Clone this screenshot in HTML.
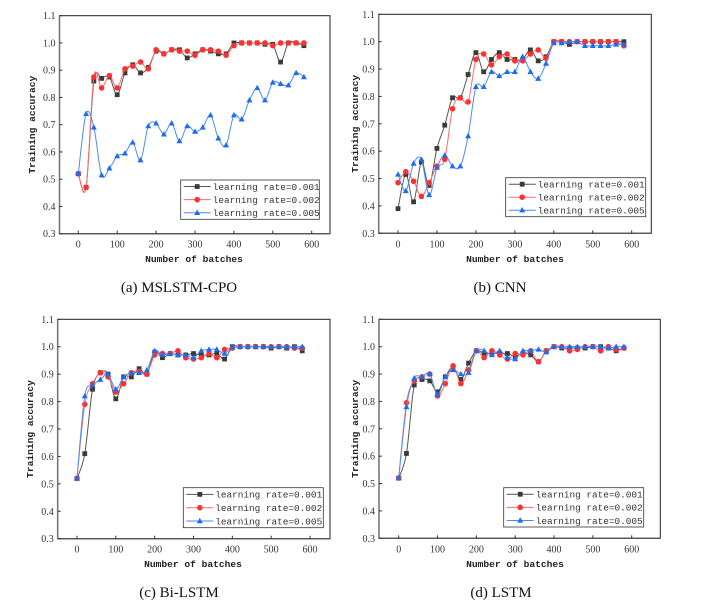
<!DOCTYPE html>
<html><head><meta charset="utf-8">
<style>
html,body{margin:0;padding:0;background:#fff;}
svg{display:block;}
.tick{font-family:"Liberation Serif",serif;font-size:10px;fill:#333;}
.ttl{font-family:"Liberation Mono",monospace;font-size:9.6px;font-weight:bold;fill:#222;}
.leg{font-family:"Liberation Mono",monospace;font-size:9.4px;fill:#333;}
.cap{font-family:"Liberation Serif",serif;font-size:15px;fill:#111;}
</style></head>
<body>
<svg id="fig" width="706" height="607" viewBox="0 0 706 607"></svg>
<script>
// x categories (batches)
const batches = [0,20,40,60,80,100,120,140,160,180,200,220,240,260,280,300,320,340,360,380,400,420,440,460,480,500,520,540,560,580];
const xTicks = [0,100,200,300,400,500,600];
const yTicks = [0.3,0.4,0.5,0.6,0.7,0.8,0.9,1.0,1.1];
const legendLabels = ["learning rate=0.001","learning rate=0.002","learning rate=0.005"];
const captions = ["(a)  MSLSTM-CPO","(b)  CNN","(c)  Bi-LSTM","(d)  LSTM"];

const mslstm001 = [0.52,0.47,0.86,0.87,0.875,0.81,0.89,0.92,0.89,0.91,0.97,0.96,0.975,0.975,0.945,0.96,0.975,0.97,0.96,0.96,1.0,1.0,1.0,1.0,0.995,0.995,0.93,1.0,1.0,0.99];
const mslstm002 = [0.52,0.47,0.875,0.835,0.88,0.835,0.905,0.915,0.93,0.905,0.975,0.96,0.975,0.97,0.97,0.955,0.975,0.975,0.97,0.955,0.99,1.0,1.0,1.0,1.0,0.99,1.0,1.0,1.0,1.0];
const mslstm005 = [0.52,0.74,0.69,0.515,0.54,0.585,0.595,0.635,0.57,0.695,0.705,0.665,0.705,0.64,0.695,0.675,0.69,0.735,0.65,0.625,0.735,0.72,0.79,0.835,0.79,0.855,0.85,0.845,0.89,0.875];

const cnn001 = [0.39,0.515,0.415,0.56,0.475,0.61,0.695,0.795,0.795,0.88,0.96,0.89,0.935,0.96,0.935,0.935,0.935,0.97,0.93,0.945,1.0,1.0,0.99,1.0,1.0,1.0,1.0,1.0,1.0,1.0];
const cnn002 = [0.485,0.525,0.49,0.435,0.485,0.545,0.57,0.755,0.795,0.78,0.935,0.955,0.915,0.945,0.955,0.93,0.93,0.955,0.97,0.94,1.0,1.0,1.0,1.0,1.0,1.0,1.0,1.0,1.0,0.985];
const cnn005 = [0.515,0.455,0.555,0.57,0.44,0.54,0.585,0.545,0.545,0.655,0.835,0.835,0.89,0.875,0.89,0.89,0.945,0.89,0.865,0.92,0.995,0.995,1.0,1.0,0.985,0.985,0.985,0.985,0.99,0.99];

const bilstm001 = [0.52,0.61,0.845,0.905,0.9,0.81,0.89,0.89,0.92,0.9,0.98,0.96,0.975,0.97,0.97,0.975,0.97,0.97,0.975,0.955,1.0,1.0,1.0,1.0,1.0,0.995,1.0,0.995,1.0,0.985];
const bilstm002 = [0.52,0.79,0.865,0.905,0.89,0.835,0.865,0.905,0.91,0.9,0.97,0.975,0.975,0.985,0.96,0.955,0.96,0.975,0.96,0.99,0.995,1.0,1.0,1.0,1.0,1.0,1.0,1.0,0.995,0.995];
const bilstm005 = [0.52,0.82,0.86,0.88,0.9,0.845,0.89,0.905,0.905,0.915,0.985,0.97,0.975,0.97,0.97,0.96,0.985,0.99,0.99,0.975,1.0,1.0,1.0,1.0,1.0,1.0,1.0,1.0,1.0,1.0];

const lstm001 = [0.52,0.61,0.86,0.88,0.875,0.835,0.89,0.925,0.88,0.94,0.985,0.975,0.975,0.975,0.975,0.965,0.975,0.97,0.945,0.985,1.0,0.995,0.995,0.995,0.995,1.0,1.0,0.995,0.985,0.995];
const lstm002 = [0.52,0.795,0.875,0.89,0.9,0.82,0.865,0.93,0.865,0.915,0.985,0.96,0.985,0.97,0.955,0.975,0.97,0.985,0.945,0.985,1.0,1.0,0.985,0.99,1.0,1.0,0.985,1.0,0.99,0.995];
const lstm005 = [0.52,0.78,0.885,0.89,0.9,0.825,0.89,0.915,0.9,0.905,0.985,0.985,0.97,0.985,0.96,0.955,0.985,0.985,0.99,0.98,1.0,1.0,1.0,1.0,1.0,1.0,1.0,0.995,1.0,1.0];

const panels = [
 {id:'a', series:[mslstm001,mslstm002,mslstm005], box:[59.5,15.7,330,233.7], x0:78.3, x600:311.7, leg:[180.7,180,319.3,219.3], ytx:35, capx:179, capy:292, xtx:194, xty:262},
 {id:'b', series:[cnn001,cnn002,cnn005], box:[378.7,14.3,651.3,233.3], x0:398, x600:631.7, leg:[505.7,177.7,645.7,216.7], ytx:358, capx:500, capy:292, xtx:515, xty:262},
 {id:'c', series:[bilstm001,bilstm002,bilstm005], box:[57.7,319.3,330,538.7], x0:77, x600:310, leg:[183.3,487.7,323.3,527.7], ytx:33, capx:179, capy:597, xtx:193, xty:567},
 {id:'d', series:[lstm001,lstm002,lstm005], box:[379,319.3,660.3,538.3], x0:398.7, x600:631.7, leg:[503.7,487.7,643.7,527], ytx:358, capx:501, capy:597, xtx:515, xty:567}
];
const colors = ['#3a3a3a','#ff3030','#1a6cf0'];
const lineColors = ['#555','#ff6a6a','#4a8cf5'];
const NS = 'http://www.w3.org/2000/svg';
const svg = document.getElementById('fig');
function mk(tag, attrs, parent){
  const e = document.createElementNS(NS, tag);
  for (const k in attrs) e.setAttribute(k, attrs[k]);
  (parent||svg).appendChild(e);
  return e;
}
function marker(g, k, x, y){
  let m;
  if (k===0) m = mk('rect',{x:x-2.4,y:y-2.4,width:4.8,height:4.8,fill:colors[0]},g);
  else if (k===1) m = mk('circle',{cx:x,cy:y,r:2.8,fill:colors[1]},g);
  else m = mk('polygon',{points:`${x},${y-3.2} ${x+3},${y+2.2} ${x-3},${y+2.2}`,fill:colors[2]},g);
  return m;
}
function spline(pts){
  let d = `M${pts[0][0]},${pts[0][1]}`;
  for (let i=0;i<pts.length-1;i++){
    const p0=pts[Math.max(i-1,0)], p1=pts[i], p2=pts[i+1], p3=pts[Math.min(i+2,pts.length-1)];
    const c1=[p1[0]+(p2[0]-p0[0])/6, p1[1]+(p2[1]-p0[1])/6];
    const c2=[p2[0]-(p3[0]-p1[0])/6, p2[1]-(p3[1]-p1[1])/6];
    d += ` C${c1[0]},${c1[1]} ${c2[0]},${c2[1]} ${p2[0]},${p2[1]}`;
  }
  return d;
}
panels.forEach(p=>{
  const [L,T,R,B] = p.box;
  const xs = v => p.x0 + (v/600)*(p.x600-p.x0);
  const ys = v => B - (v-0.3)/0.8*(B-T);
  const g = mk('g',{});
  
  
  const frame = mk('rect',{x:L,y:T,width:R-L,height:B-T,fill:'none',stroke:'#222','stroke-width':1},g);
  
  
  mk('line',{x1:L,y1:T,x2:L,y2:B,stroke:'#777','stroke-width':1.6},g);
  mk('line',{x1:L,y1:B,x2:R,y2:B,stroke:'#555','stroke-width':1.4},g);
  yTicks.forEach(v=>{
    const y = ys(v);
    mk('line',{x1:L,y1:y,x2:L+3,y2:y,stroke:'#333','stroke-width':1},g);
    const t = mk('text',{x:L-4,y:y+3.5,'text-anchor':'end',class:'tick'},g);
    t.textContent = v.toFixed(1);
    
    
  });
  xTicks.forEach(v=>{
    const x = xs(v);
    mk('line',{x1:x,y1:B,x2:x,y2:B-3,stroke:'#333','stroke-width':1},g);
    const t = mk('text',{x:x,y:B+14,'text-anchor':'middle',class:'tick'},g);
    t.textContent = v;
    
    
  });
  p.series.forEach((vals,k)=>{
    const pts = vals.map((v,i)=>[xs(batches[i]), ys(v)]);
    const sg = mk('g',{},g);
    
    
    mk('path',{d:spline(pts),fill:'none',stroke:lineColors[k],'stroke-width':1},sg);
    pts.forEach(pt=>{
      const m = marker(sg,k,pt[0],pt[1]);
      
      
    });
  });
  const [lx1,ly1,lx2,ly2] = p.leg;
  const lg = mk('g',{},g);
  
  
  mk('rect',{x:lx1,y:ly1,width:lx2-lx1,height:ly2-ly1,fill:'#fff',stroke:'#333','stroke-width':0.8},lg);
  const rowH = (ly2-ly1)/3;
  legendLabels.forEach((lab,k)=>{
    const cy = ly1 + rowH*(k+0.5);
    mk('line',{x1:lx1+3,y1:cy,x2:lx1+30,y2:cy,stroke:lineColors[k],'stroke-width':1},lg);
    marker(lg,k,lx1+16.5,cy);
    const t = mk('text',{x:lx1+32,y:cy+3.3,class:'leg'},lg);
    t.textContent = lab;
    
    
  });
  const xt = mk('text',{x:p.xtx,y:p.xty,'text-anchor':'middle',class:'ttl'},g);
  xt.textContent = 'Number of batches';
  
  
  const ymid = (T+B)/2;
  const yt = mk('text',{x:p.ytx,y:ymid,'text-anchor':'middle',class:'ttl',transform:`rotate(-90 ${p.ytx} ${ymid})`},g);
  yt.textContent = 'Training accuracy';
  
  
  const cp = mk('text',{x:p.capx,y:p.capy,'text-anchor':'middle',class:'cap'},g);
  cp.textContent = captions[panels.indexOf(p)];
  
  
});
</script>
</body></html>
